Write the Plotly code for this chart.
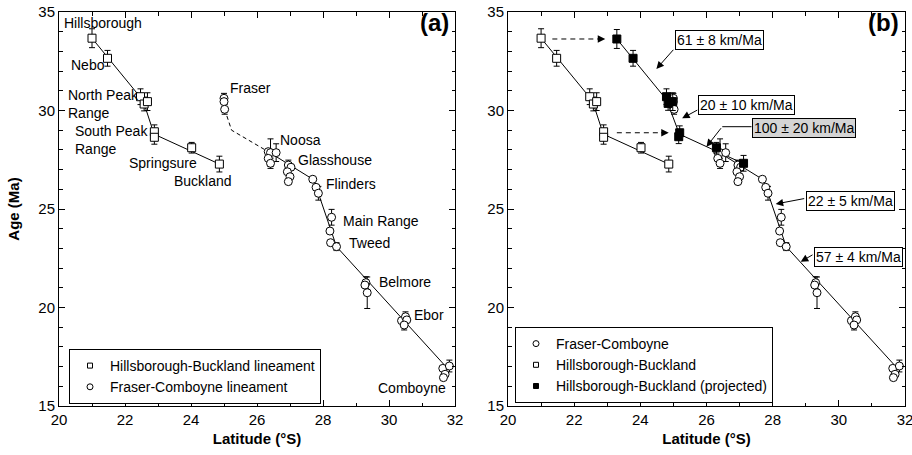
import plotly.graph_objects as go

# ---------------- data ----------------
# Hillsborough-Buckland lineament (open squares)
hb_lat = [21.0, 21.47, 22.47, 22.58, 22.68, 22.89, 22.89, 24.02, 24.86]
hb_age = [33.67, 32.65, 30.70, 30.33, 30.45, 28.92, 28.64, 28.11, 27.28]
hb_err = [0.48, 0.40, 0.40, 0.35, 0.45, 0.35, 0.35, 0.27, 0.40]

# Hillsborough-Buckland projected (filled squares, panel b)
hbp_lat = [23.29, 23.78, 24.79, 24.84, 24.98, 25.19, 25.16, 26.30, 27.12]
hbp_age = [33.63, 32.65, 30.70, 30.36, 30.45, 28.87, 28.67, 28.11, 27.32]
hbp_err = [0.48, 0.40, 0.40, 0.35, 0.45, 0.35, 0.35, 0.27, 0.40]

# Fraser-Comboyne lineament (open circles)
fc_lat = [25.00, 25.00, 25.02,
          26.34, 26.41, 26.58, 26.34, 26.41,
          26.95, 27.03, 26.92, 27.00, 26.95,
          27.69, 27.79, 27.86,
          28.26, 28.21,
          28.23, 28.41,
          29.30, 29.27, 29.34,
          30.38, 30.50, 30.54, 30.46,
          31.63, 31.83, 31.70, 31.65]
fc_age = [30.62, 30.45, 30.06,
          27.91, 27.86, 27.86, 27.57, 27.32,
          27.23, 27.12, 26.89, 26.64, 26.39,
          26.51, 26.10, 25.80,
          24.58, 23.88,
          23.29, 23.09,
          21.26, 21.14, 20.75,
          19.33, 19.53, 19.37, 19.11,
          16.91, 17.03, 16.61, 16.44]
fc_err = [0.25, 0.0, 0.25,
          0.0, 0.70, 0.45, 0.0, 0.26,
          0.25, 0.0, 0.0, 0.0, 0.0,
          0.0, 0.0, 0.35,
          0.40, 0.0,
          0.0, 0.20,
          0.30, 0.0, 0.80,
          0.0, 0.25, 0.0, 0.25,
          0.0, 0.30, 0.0, 0.0]

# trend lines
hb_line_lat = [21.0, 22.55, 22.88, 24.86]
hb_line_age = [33.67, 30.50, 28.80, 27.28]
hbp_line_lat = [23.29, 24.79, 25.18, 27.12]
hbp_line_age = [33.63, 30.55, 28.80, 27.30]
fc_dash_lat = [25.02, 25.23, 26.34]
fc_dash_age = [30.06, 29.00, 27.91]
fc_line_lat = [26.34, 27.69, 27.86, 28.41, 31.75]
fc_line_age = [27.91, 26.51, 25.80, 23.09, 16.95]

# locality labels (panel a)
loc_names = ["Hillsborough", "Nebo", "North Peak<br>Range", "South Peak<br>Range",
             "Springsure", "Buckland", "Fraser", "Noosa", "Glasshouse", "Flinders",
             "Main Range", "Tweed", "Belmore", "Ebor", "Comboyne"]
loc_lat = [20.13, 20.33, 20.23, 20.45, 22.10, 23.46, 25.16, 26.67,
           27.20, 28.06, 28.57, 28.77, 29.68, 30.72, 29.63]
loc_age = [34.44, 32.31, 30.33, 28.50, 27.36, 26.40, 31.14, 28.50,
           27.51, 26.29, 24.39, 23.27, 21.29, 19.62, 15.90]

# rate labels (panel b)
rate_text = ["61 ± 8 km/Ma", "20 ± 10 km/Ma", "100 ± 20 km/Ma", "22 ± 5 km/Ma", "57 ± 4 km/Ma"]
rate_lat = [26.39, 27.22, 28.955, 30.35, 30.58]
rate_age = [33.59, 30.29, 29.13, 25.41, 22.55]
rate_bg = ["white", "white", "#d4d4d4", "white", "white"]
rate_tip_lat = [24.485, 25.264, 26.00, 28.091, 28.848]
rate_tip_age = [32.107, 29.604, 28.162, 25.254, 22.325]
rate_tail_dx = [18.3, 16.6, 15.7, 30.0, 13.3]
rate_tail_dy = [-20.7, -9.0, -20.0, -5.7, -7.7]

# projection shifts (dashed arrows, panel b)
shift_from = [21.34, 23.29]
shift_to = [22.94, 24.86]
shift_age = [33.63, 28.87]

FONT = "Liberation Sans, Arial, sans-serif"

fig = go.Figure()

mk_sq = dict(symbol="square", size=8, color="white", line=dict(color="black", width=1))
mk_circ = dict(symbol="circle", size=8, color="white", line=dict(color="black", width=1))
mk_fill = dict(symbol="square", size=8, color="black", line=dict(color="black", width=1))


def err(a):
    return dict(type="data", array=a, visible=True, color="black", thickness=1, width=3)


for xa, ya in [("x", "y"), ("x2", "y2")]:
    fig.add_trace(go.Scatter(x=hb_line_lat, y=hb_line_age, mode="lines",
                             line=dict(color="black", width=1), xaxis=xa, yaxis=ya,
                             showlegend=False, hoverinfo="skip"))
    fig.add_trace(go.Scatter(x=fc_line_lat, y=fc_line_age, mode="lines",
                             line=dict(color="black", width=1), xaxis=xa, yaxis=ya,
                             showlegend=False, hoverinfo="skip"))

fig.add_trace(go.Scatter(x=fc_dash_lat, y=fc_dash_age, mode="lines",
                         line=dict(color="black", width=1, dash="4px,3px"),
                         xaxis="x", yaxis="y", showlegend=False, hoverinfo="skip"))
fig.add_trace(go.Scatter(x=hbp_line_lat, y=hbp_line_age, mode="lines",
                         line=dict(color="black", width=1),
                         xaxis="x2", yaxis="y2", showlegend=False, hoverinfo="skip"))

for xa, ya in [("x", "y"), ("x2", "y2")]:
    fig.add_trace(go.Scatter(x=hb_lat, y=hb_age, mode="markers", marker=mk_sq,
                             error_y=err(hb_err), xaxis=xa, yaxis=ya, showlegend=False))
    fig.add_trace(go.Scatter(x=fc_lat, y=fc_age, mode="markers", marker=mk_circ,
                             error_y=err(fc_err), xaxis=xa, yaxis=ya, showlegend=False))

fig.add_trace(go.Scatter(x=hbp_lat, y=hbp_age, mode="markers", marker=mk_fill,
                         error_y=err(hbp_err), xaxis="x2", yaxis="y2", showlegend=False))

# legend entries
lg_small = 5
fig.add_trace(go.Scatter(x=[None], y=[None], mode="markers", name="Hillsborough-Buckland lineament",
                         marker=dict(symbol="square", size=lg_small, color="white",
                                     line=dict(color="black", width=1)),
                         xaxis="x", yaxis="y", legend="legend"))
fig.add_trace(go.Scatter(x=[None], y=[None], mode="markers", name="Fraser-Comboyne lineament",
                         marker=dict(symbol="circle", size=lg_small + 1, color="white",
                                     line=dict(color="black", width=1)),
                         xaxis="x", yaxis="y", legend="legend"))
fig.add_trace(go.Scatter(x=[None], y=[None], mode="markers", name="Fraser-Comboyne",
                         marker=dict(symbol="circle", size=lg_small + 1, color="white",
                                     line=dict(color="black", width=1)),
                         xaxis="x2", yaxis="y2", legend="legend2"))
fig.add_trace(go.Scatter(x=[None], y=[None], mode="markers", name="Hillsborough-Buckland",
                         marker=dict(symbol="square", size=lg_small, color="white",
                                     line=dict(color="black", width=1)),
                         xaxis="x2", yaxis="y2", legend="legend2"))
fig.add_trace(go.Scatter(x=[None], y=[None], mode="markers", name="Hillsborough-Buckland (projected)",
                         marker=dict(symbol="square", size=lg_small, color="black",
                                     line=dict(color="black", width=1)),
                         xaxis="x2", yaxis="y2", legend="legend2"))

annotations = []
for t, la, ag in zip(loc_names, loc_lat, loc_age):
    annotations.append(dict(x=la, y=ag, xref="x", yref="y", text=t, showarrow=False,
                            xanchor="left", yanchor="middle", align="left", borderpad=0,
                            font=dict(family=FONT, size=14, color="black")))

for t, la, ag, bg in zip(rate_text, rate_lat, rate_age, rate_bg):
    annotations.append(dict(x=la, y=ag, xref="x2", yref="y2", text=t, showarrow=False,
                            xanchor="center", yanchor="middle", bgcolor=bg,
                            bordercolor="black", borderwidth=1, borderpad=1,
                            font=dict(family=FONT, size=14, color="black")))

for la, ag, dx, dy in zip(rate_tip_lat, rate_tip_age, rate_tail_dx, rate_tail_dy):
    annotations.append(dict(x=la, y=ag, xref="x2", yref="y2", text="", showarrow=True,
                            ax=dx, ay=dy, arrowhead=2, arrowsize=1.5, arrowwidth=1,
                            arrowcolor="black"))

for lt, ag in zip(shift_to, shift_age):
    annotations.append(dict(x=lt, y=ag, xref="x2", yref="y2", text="", showarrow=True,
                            ax=-9, ay=0, arrowhead=2, arrowsize=1.5, arrowwidth=1,
                            arrowcolor="black"))

annotations.append(dict(x=31.88, y=34.49, xref="x", yref="y", text="(a)", showarrow=False,
                        xanchor="right", yanchor="middle",
                        font=dict(family=FONT, size=24, color="black", weight="bold")))
annotations.append(dict(x=31.88, y=34.49, xref="x2", yref="y2", text="(b)", showarrow=False,
                        xanchor="right", yanchor="middle",
                        font=dict(family=FONT, size=24, color="black", weight="bold")))

shapes = []
for lf, lt, ag in zip(shift_from, shift_to, shift_age):
    shapes.append(dict(type="line", xref="x2", yref="y2", x0=lf, x1=lt - 0.2, y0=ag, y1=ag,
                       line=dict(color="black", width=1, dash="5px,4px")))
# elbow of the 100 ± 20 label leader
shapes.append(dict(type="line", xref="x2", yref="y2", x0=26.476, x1=27.36, y0=29.178, y1=29.178,
                   line=dict(color="black", width=1)))

axis_common = dict(range=[20, 32], dtick=2, ticks="inside", ticklen=6, tickwidth=1,
                   tickcolor="black", showline=True, linecolor="black", linewidth=1,
                   mirror="ticks", showgrid=False, zeroline=False, ticklabeloverflow="allow",
                   minor=dict(dtick=1, ticks="inside", ticklen=3.5, tickcolor="black",
                              showgrid=False),
                   tickfont=dict(family=FONT, size=15, color="black"),
                   title=dict(text="Latitude (°S)", standoff=6,
                              font=dict(family=FONT, size=15, color="black", weight="bold")))
yaxis_common = dict(range=[15, 35], dtick=5, ticks="inside", ticklen=6, tickwidth=1,
                    tickcolor="black", showline=True, linecolor="black", linewidth=1,
                    mirror="ticks", showgrid=False, zeroline=False, ticklabeloverflow="allow",
                    minor=dict(dtick=1, ticks="inside", ticklen=3.5, tickcolor="black",
                               showgrid=False),
                    tickfont=dict(family=FONT, size=15, color="black"))

W, H = 912, 455
ml, mt = 59, 12
mr = W - 905
mb = H - 406
pw = W - ml - mr
ph = H - mt - mb


def px_x(p):
    return (p - ml) / pw


def px_y(p):
    return 1 - (p - mt) / ph


fig.update_layout(
    width=W, height=H,
    margin=dict(l=ml, r=mr, t=mt, b=mb, autoexpand=False),
    paper_bgcolor="white", plot_bgcolor="white",
    font=dict(family=FONT, size=14, color="black"),
    xaxis=dict(domain=[0, px_x(455)], anchor="y", **axis_common),
    yaxis=dict(domain=[0, 1], anchor="x",
               title=dict(text="Age (Ma)", standoff=15,
                          font=dict(family=FONT, size=15, color="black", weight="bold")),
               **yaxis_common),
    xaxis2=dict(domain=[px_x(508), 1], anchor="y2", **axis_common),
    yaxis2=dict(domain=[0, 1], anchor="x2", **yaxis_common),
    legend=dict(x=px_x(69), y=px_y(349), xanchor="left", yanchor="top",
                bordercolor="black", borderwidth=1, bgcolor="white",
                font=dict(family=FONT, size=14, color="black"), itemwidth=30,
                tracegroupgap=0),
    legend2=dict(x=px_x(515), y=px_y(327), xanchor="left", yanchor="top",
                 bordercolor="black", borderwidth=1, bgcolor="white",
                 font=dict(family=FONT, size=14, color="black"), itemwidth=30,
                 tracegroupgap=0),
    annotations=annotations,
    shapes=shapes,
)

# remove the browser's default 8px body margin so the figure sits at the window origin
fig.write_html("out.html",
               config={"displayModeBar": False},
               post_script="document.body.style.margin='0';document.body.style.overflow='hidden';")
